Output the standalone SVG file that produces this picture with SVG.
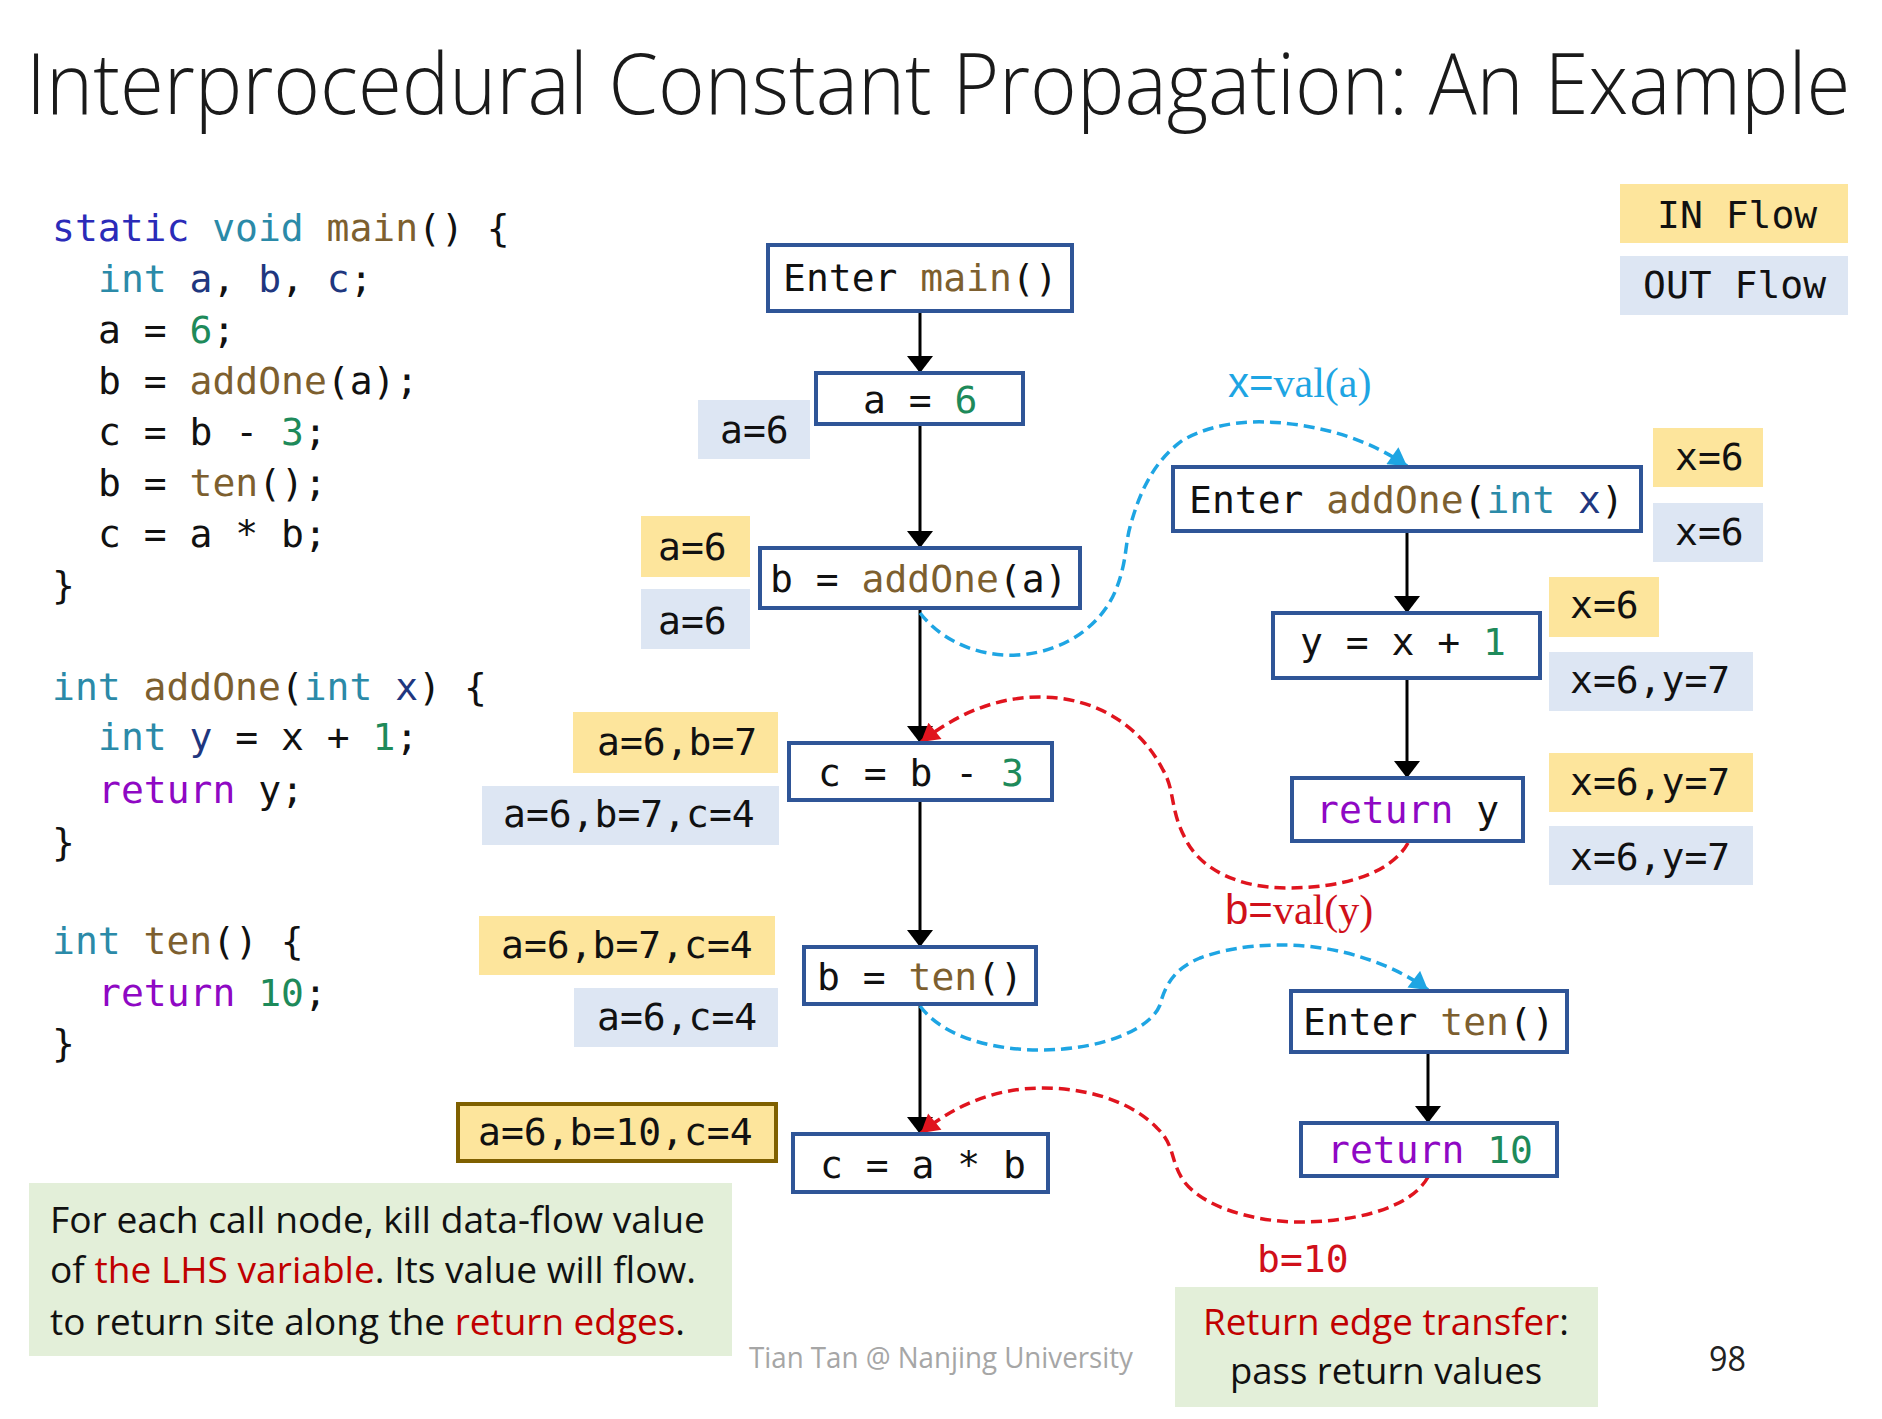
<svg xmlns="http://www.w3.org/2000/svg" width="1882" height="1419" viewBox="0 0 1882 1419">
<defs>
<style>
.title{font-family:"Open Sans","Liberation Sans",sans-serif;font-size:84px;font-weight:300;fill:#1a1a1a}
.code{font-family:"DejaVu Sans Mono","Liberation Mono",monospace;font-size:38px;fill:#111}
.kw{fill:#2b2bb8}
.ty{fill:#2b8aa8}
.fn{fill:#7d5f2f}
.nm{fill:#1e8a5a}
.lv{fill:#1f377f}
.ctl{fill:#8f08c4}
.box{fill:#fff;stroke:#2f5597;stroke-width:4}
.in{fill:#fde59c}
.out{fill:#dde6f3}
.note{fill:#e3efd9}
.sans{font-family:"Open Sans","Liberation Sans",sans-serif;font-size:36px;fill:#111}
.red{fill:#c00000}
.edge{stroke:#000;stroke-width:3;fill:none;marker-end:url(#ah)}
.call{stroke:#1ea5e3;stroke-width:3.5;stroke-dasharray:11 6;fill:none;marker-end:url(#ahb)}
.ret{stroke:#e0141e;stroke-width:3.5;stroke-dasharray:11 6;fill:none;marker-end:url(#ahr)}
</style>
<marker id="ah" markerUnits="userSpaceOnUse" markerWidth="18" markerHeight="26" viewBox="0 0 17 26" refX="17" refY="13" orient="auto"><path d="M0,0 L17,13 L0,26 z" fill="#000"/></marker>
<marker id="ahb" markerUnits="userSpaceOnUse" markerWidth="19" markerHeight="21" viewBox="0 0 17 20" refX="17" refY="10" orient="auto"><path d="M0,0 L17,10 L0,20 z" fill="#1ea5e3"/></marker>
<marker id="ahr" markerUnits="userSpaceOnUse" markerWidth="19" markerHeight="21" viewBox="0 0 17 20" refX="17" refY="10" orient="auto"><path d="M0,0 L17,10 L0,20 z" fill="#e0141e"/></marker>
</defs>
<rect x="0" y="0" width="1882" height="1419" fill="#fff"/>

<g transform="translate(26,0) scale(0.88,1)">
<text class="title" x="0" y="114" textLength="2073" lengthAdjust="spacingAndGlyphs">Interprocedural Constant Propagation: An Example</text>
</g>

<g id="source-code">
<text class="code" x="52" y="241" xml:space="preserve"><tspan class="kw">static</tspan> <tspan class="ty">void</tspan> <tspan class="fn">main</tspan>() {</text>
<text class="code" x="98" y="292" xml:space="preserve"><tspan class="ty">int</tspan> <tspan class="lv">a</tspan>, <tspan class="lv">b</tspan>, <tspan class="lv">c</tspan>;</text>
<text class="code" x="98" y="343" xml:space="preserve">a = <tspan class="nm">6</tspan>;</text>
<text class="code" x="98" y="394" xml:space="preserve">b = <tspan class="fn">addOne</tspan>(a);</text>
<text class="code" x="98" y="445" xml:space="preserve">c = b - <tspan class="nm">3</tspan>;</text>
<text class="code" x="98" y="496" xml:space="preserve">b = <tspan class="fn">ten</tspan>();</text>
<text class="code" x="98" y="547" xml:space="preserve">c = a * b;</text>
<text class="code" x="52" y="598">}</text>
<text class="code" x="52" y="700" xml:space="preserve"><tspan class="ty">int</tspan> <tspan class="fn">addOne</tspan>(<tspan class="ty">int</tspan> <tspan class="lv">x</tspan>) {</text>
<text class="code" x="98" y="750" xml:space="preserve"><tspan class="ty">int</tspan> <tspan class="lv">y</tspan> = x + <tspan class="nm">1</tspan>;</text>
<text class="code" x="98" y="803" xml:space="preserve"><tspan class="ctl">return</tspan> y;</text>
<text class="code" x="52" y="855">}</text>
<text class="code" x="52" y="954" xml:space="preserve"><tspan class="ty">int</tspan> <tspan class="fn">ten</tspan>() {</text>
<text class="code" x="98" y="1006" xml:space="preserve"><tspan class="ctl">return</tspan> <tspan class="nm">10</tspan>;</text>
<text class="code" x="52" y="1056">}</text>
</g>

<g id="legend">
<rect class="in" x="1620" y="184" width="228" height="59"/>
<text class="code" x="1657" y="228">IN Flow</text>
<rect class="out" x="1620" y="256" width="228" height="59"/>
<text class="code" x="1643" y="298">OUT Flow</text>
</g>

<g id="connectors">
<line class="edge" x1="920" y1="311" x2="920" y2="373"/>
<line class="edge" x1="920" y1="424" x2="920" y2="548"/>
<line class="edge" x1="920" y1="608" x2="920" y2="743"/>
<line class="edge" x1="920" y1="800" x2="920" y2="947"/>
<line class="edge" x1="920" y1="1004" x2="920" y2="1134"/>
<line class="edge" x1="1407" y1="533" x2="1407" y2="613"/>
<line class="edge" x1="1407" y1="678" x2="1407" y2="778"/>
<line class="edge" x1="1428" y1="1052" x2="1428" y2="1123"/>
<path class="call" d="M920,613 C945,645 985,657 1017,655 C1070,652 1105,620 1117,587 C1127,560 1125,545 1130,527 C1140,490 1155,460 1183,440 C1210,425 1240,421 1267,422 C1320,424 1370,440 1407,466"/>
<path class="ret" d="M1408,843 C1390,875 1340,888 1287,888 C1240,888 1200,870 1185,838 C1170,810 1175,790 1163,770 C1140,725 1095,697 1040,697 C995,697 955,715 921,742"/>
<path class="call" d="M920,1006 C945,1040 1000,1050 1040,1050 C1100,1050 1150,1030 1160,1005 C1165,985 1175,968 1200,958 C1230,947 1260,945 1283,945 C1340,945 1395,965 1428,990"/>
<path class="ret" d="M1428,1177 C1410,1210 1350,1222 1300,1222 C1250,1222 1200,1205 1183,1180 C1170,1160 1175,1145 1157,1128 C1130,1100 1085,1088 1043,1088 C995,1088 955,1105 921,1133"/>
<text x="1228" y="397" fill="#1ea5e3" font-size="42"><tspan font-family="Liberation Sans, sans-serif">x=</tspan><tspan font-family="Liberation Serif, serif">val(a)</tspan></text>
<text x="1225" y="924" fill="#d0101a" font-size="42"><tspan font-family="Liberation Sans, sans-serif">b=</tspan><tspan font-family="Liberation Serif, serif">val(y)</tspan></text>
<text class="code" x="1257" y="1272" style="fill:#d0101a">b=10</text>
</g>

<g id="enter-main">
<rect class="box" x="768" y="245" width="304" height="66"/>
<text class="code" x="783" y="291" xml:space="preserve">Enter <tspan class="fn">main</tspan>()</text>
</g>
<g id="a-eq-6">
<rect class="box" x="816" y="373" width="207" height="51"/>
<text class="code" x="863" y="413" xml:space="preserve">a = <tspan class="nm">6</tspan></text>
</g>
<g id="b-eq-addOne">
<rect class="box" x="760" y="548" width="320" height="60"/>
<text class="code" x="770" y="592" xml:space="preserve">b = <tspan class="fn">addOne</tspan>(a)</text>
</g>
<g id="c-eq-b-minus-3">
<rect class="box" x="789" y="743" width="263" height="57"/>
<text class="code" x="818" y="786" xml:space="preserve">c = b - <tspan class="nm">3</tspan></text>
</g>
<g id="b-eq-ten">
<rect class="box" x="804" y="947" width="232" height="57"/>
<text class="code" x="817" y="990" xml:space="preserve">b = <tspan class="fn">ten</tspan>()</text>
</g>
<g id="c-eq-a-times-b">
<rect class="box" x="793" y="1134" width="255" height="58"/>
<text class="code" x="820" y="1178" xml:space="preserve">c = a * b</text>
</g>
<g id="enter-addOne">
<rect class="box" x="1173" y="467" width="468" height="64"/>
<text class="code" x="1189" y="513" xml:space="preserve">Enter <tspan class="fn">addOne</tspan>(<tspan class="ty">int</tspan> <tspan class="lv">x</tspan>)</text>
</g>
<g id="y-eq-x-plus-1">
<rect class="box" x="1273" y="613" width="267" height="65"/>
<text class="code" x="1300" y="655" xml:space="preserve">y = x + <tspan class="nm">1</tspan></text>
</g>
<g id="return-y">
<rect class="box" x="1292" y="778" width="231" height="63"/>
<text class="code" x="1316" y="823" xml:space="preserve"><tspan class="ctl">return</tspan> y</text>
</g>
<g id="enter-ten">
<rect class="box" x="1291" y="991" width="276" height="61"/>
<text class="code" x="1303" y="1035" xml:space="preserve">Enter <tspan class="fn">ten</tspan>()</text>
</g>
<g id="return-10">
<rect class="box" x="1301" y="1123" width="256" height="53"/>
<text class="code" x="1327" y="1163" xml:space="preserve"><tspan class="ctl">return</tspan> <tspan class="nm">10</tspan></text>
</g>

<g id="flow-values">
<rect class="out" x="698" y="400" width="112" height="59"/><text class="code" x="720" y="443">a=6</text>
<rect class="in" x="641" y="516" width="109" height="61"/><text class="code" x="658" y="560">a=6</text>
<rect class="out" x="641" y="589" width="109" height="60"/><text class="code" x="658" y="634">a=6</text>
<rect class="in" x="573" y="712" width="205" height="61"/><text class="code" x="597" y="755">a=6,b=7</text>
<rect class="out" x="482" y="786" width="297" height="59"/><text class="code" x="503" y="827">a=6,b=7,c=4</text>
<rect class="in" x="479" y="916" width="296" height="59"/><text class="code" x="501" y="958">a=6,b=7,c=4</text>
<rect class="out" x="574" y="988" width="204" height="59"/><text class="code" x="597" y="1030">a=6,c=4</text>
<rect class="in" x="458" y="1104" width="318" height="57" stroke="#7f6000" stroke-width="4"/><text class="code" x="478" y="1145">a=6,b=10,c=4</text>
<rect class="in" x="1653" y="428" width="110" height="59"/><text class="code" x="1675" y="470">x=6</text>
<rect class="out" x="1653" y="503" width="110" height="59"/><text class="code" x="1675" y="545">x=6</text>
<rect class="in" x="1549" y="577" width="110" height="60"/><text class="code" x="1570" y="618">x=6</text>
<rect class="out" x="1549" y="652" width="204" height="59"/><text class="code" x="1570" y="693">x=6,y=7</text>
<rect class="in" x="1549" y="753" width="204" height="59"/><text class="code" x="1570" y="795">x=6,y=7</text>
<rect class="out" x="1549" y="826" width="204" height="59"/><text class="code" x="1570" y="870">x=6,y=7</text>
</g>

<g id="note-call">
<rect class="note" x="29" y="1183" width="703" height="173"/>
<text class="sans" x="50" y="1233" textLength="655" lengthAdjust="spacingAndGlyphs">For each call node, kill data-flow value</text>
<text class="sans" x="50" y="1283" textLength="646" lengthAdjust="spacingAndGlyphs">of <tspan class="red">the LHS variable</tspan>. Its value will flow.</text>
<text class="sans" x="50" y="1335" textLength="635" lengthAdjust="spacingAndGlyphs">to return site along the <tspan class="red">return edges</tspan>.</text>
</g>

<g id="note-return">
<rect class="note" x="1175" y="1287" width="423" height="120"/>
<text class="sans" x="1203" y="1335" textLength="366" lengthAdjust="spacingAndGlyphs"><tspan class="red">Return edge transfer</tspan>:</text>
<text class="sans" x="1230" y="1384" textLength="312" lengthAdjust="spacingAndGlyphs">pass return values</text>
</g>

<text x="749" y="1368" font-family="Open Sans, Liberation Sans, sans-serif" font-size="30" fill="#a6a6a6" textLength="384" lengthAdjust="spacingAndGlyphs">Tian Tan @ Nanjing University</text>
<text x="1709" y="1371" font-family="Open Sans, Liberation Sans, sans-serif" font-size="34" fill="#222" textLength="37" lengthAdjust="spacingAndGlyphs">98</text>
</svg>
